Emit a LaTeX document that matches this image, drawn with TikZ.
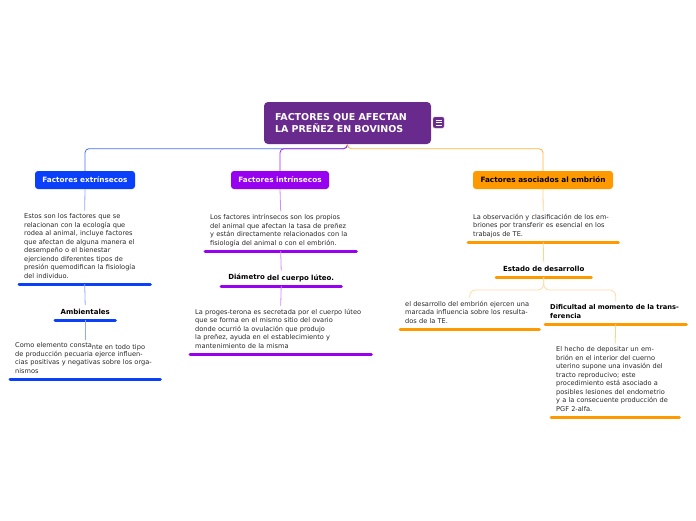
\documentclass[tikz,border=0pt]{standalone}
\usepackage{fontspec}
\setmainfont{DejaVu Sans}
\usetikzlibrary{calc}
\definecolor{titlepurple}{RGB}{104,42,140}
\definecolor{myblue}{RGB}{10,64,250}
\definecolor{mypurple}{RGB}{152,0,240}
\definecolor{myorange}{RGB}{255,153,0}

\tikzset{
  cat/.style={rounded corners=3pt, minimum height=18pt, inner sep=0pt, font=\fontsize{7.3}{8}\selectfont\bfseries},
  txt/.style={anchor=south west, align=left, inner xsep=5pt, inner ysep=3pt, text=black!85, font=\fontsize{6.6}{8.5}\selectfont, execute at end node=\strut},
  hdr/.style={txt, inner xsep=0pt, align=center, text=black, font=\fontsize{7}{8.5}\selectfont\bfseries},
  ul/.style={line width=3pt, line cap=round},
  lnk/.style={line width=0.8pt, rounded corners=4pt},
}

\begin{document}
\begin{tikzpicture}[x=1pt,y=-1pt]
\useasboundingbox (0,0) rectangle (696,520);

% titulo
\node[fill=titlepurple, rounded corners=4pt, minimum width=167pt, minimum height=42pt, inner xsep=11pt, inner ysep=0pt, text width=145pt, align=left, text=white, font=\fontsize{9.5}{12}\selectfont\bfseries] (titulo) at (347.5,123) {FACTORES QUE AFECTAN\\LA PREÑEZ EN BOVINOS};
\node[fill=titlepurple, draw=titlepurple!70, rounded corners=1.5pt, minimum size=11pt, inner sep=0pt] (nota) at (438.5,122.5) {};
\foreach \dy in {-2.5,0,2.5}
  \draw[white, line width=0.7pt] ($(nota.center)+(-3,\dy)$) -- ++(6,0);

% categorias
\node[cat, fill=myblue, text=white, minimum width=100pt] (extrin) at (85,180) {Factores extrínsecos};
\node[cat, fill=mypurple, text=white, minimum width=98pt] (intrin) at (280,180) {Factores intrínsecos};
\node[cat, fill=myorange, text=black, minimum width=140pt] (embrion) at (543,180) {Factores asociados al embrión};

\draw[lnk, myblue!75] (titulo.south) -- ++(0,4.5) -| (extrin.north);
\draw[lnk, mypurple!85] (titulo.south) -- ++(0,4.5) -| (intrin.north);
\draw[lnk, myorange!75] (titulo.south) -- ++(0,4.5) -| (embrion.north);

% extrinsecos
\node[txt, text width=121pt] (extxt) at (19,284) {Estos son los factores que se\\relacionan con la ecología que\\rodea al animal, incluye factores\\que afectan de alguna manera el\\desempeño o el bienestar\\ejerciendo diferentes tipos de\\presión quemodifican la fisiología\\del individuo.};
\node[hdr, text width=60pt] (amb) at (55,320) {Ambientales};
\node[txt, text width=140pt] (amtxt) at (10,379) {Como elemento consta\raisebox{-1.5pt}{nte en todo tipo}\\de producción pecuaria ejerce influen-\\cias positivas y negativas sobre los orga-\\nismos};
\foreach \n in {extxt,amb,amtxt}
  \draw[ul, myblue] (\n.south west) -- (\n.south east);
\draw[lnk, myblue!45] (extrin.south) -- (extxt.north);
\draw[lnk, myblue!45] (extxt.south) -- (amb.north);
\draw[lnk, myblue!45] (amb.south) -- (amtxt.north);

% intrinsecos
\node[txt, text width=141pt] (intxt) at (205,251) {Los factores intrínsecos son los propios\\del animal que afectan la tasa de preñez\\y están directamente relacionados con la\\fisiología del animal o con el embrión.};
\node[hdr, text width=120pt] (diam) at (221,286) {\raisebox{0.8pt}{Diámetro} del cuerpo lúteo.};
\node[txt, text width=171pt] (diamtxt) at (190,354) {La proges-terona es secretada por el cuerpo lúteo\\que se forma en el mismo sitio del ovario\\donde ocurrió la ovulación que produjo\\la preñez, ayuda en el establecimiento y\\mantenimiento de la misma};
\foreach \n in {intxt,diam,diamtxt}
  \draw[ul, mypurple] (\n.south west) -- (\n.south east);
\draw[lnk, mypurple!45] (intrin.south) -- (intxt.north);
\draw[lnk, mypurple!45] (intxt.south) -- (diam.north);
\draw[lnk, mypurple!45] (diam.south) -- (diamtxt.north);

% embrion
\node[txt, text width=140pt] (embtxt) at (468,242) {La observación y clasificación de los em-\\briones por transferir es esencial en los\\trabajos de TE.};
\node[hdr, text width=95pt] (estado) at (496,277) {Estado de desarrollo};
\node[txt, text width=129pt] (desatxt) at (400,329) {el desarrollo del embrión ejercen una\\marcada influencia sobre los resulta-\\dos de la TE.};
\node[txt, text width=131pt, text=black, font=\fontsize{6.7}{8.5}\selectfont\bfseries] (dific) at (545,324) {Dificultad al momento de la trans-\\ferencia};
\node[txt, text width=118pt] (hechotxt) at (551,417) {El hecho de depositar un em-\\brión en el interior del cuerno\\uterino supone una invasión del\\tracto reproducivo; este\\procedimiento está asociado a\\posibles lesiones del endometrio\\y a la consecuente producción de\\PGF 2-alfa.};
\foreach \n in {embtxt,estado,desatxt,dific,hechotxt}
  \draw[ul, myorange] (\n.south west) -- (\n.south east);
\draw[lnk, myorange!45] (embrion.south) -- (embtxt.north);
\draw[lnk, myorange!45] (embtxt.south) -- (estado.north);
\draw[lnk, myorange!35, rounded corners=6pt] (estado.south) -- ++(0,13) -| (desatxt.north);
\draw[lnk, myorange!35, rounded corners=6pt] (estado.south) -- ++(0,13) -| (dific.north);
\draw[lnk, myorange!45] (dific.south) -- (hechotxt.north);
\end{tikzpicture}
\end{document}
